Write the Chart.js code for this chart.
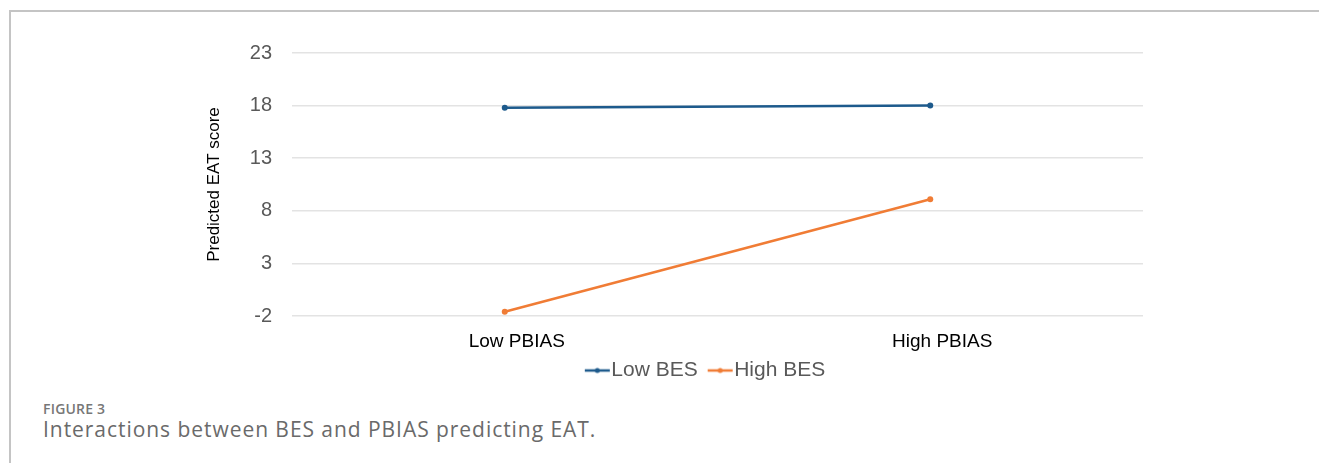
<!DOCTYPE html>
<html>
<head>
<meta charset="utf-8">
<script src="https://cdn.jsdelivr.net/npm/chart.js@4.4.1/dist/chart.umd.min.js"></script>
<style>
  html, body { margin: 0; padding: 0; background: #fff; }
  body { width: 1319px; height: 463px; position: relative; overflow: hidden; }
  #frame {
    position: absolute; left: 9px; top: 10px; width: 1320px; height: 460px;
    border-top: 2px solid #c4c4c4; border-left: 2px solid #c4c4c4;
  }
  #myChart { position: absolute; left: 0; top: 0; }
  .fig { position: absolute; left: 43px; top: 399px; font-family: "Open Sans", sans-serif;
         font-weight: 600; font-size: 14px; color: #777; letter-spacing: 0.2px; }
  .cap { position: absolute; left: 43px; top: 415px; font-family: "Open Sans", sans-serif;
         font-size: 21px; color: #6a6a6a; letter-spacing: 0.95px; }
</style>
</head>
<body>
<div id="frame"></div>
<canvas id="myChart" width="1319" height="392"></canvas>
<div class="fig">FIGURE 3</div>
<div class="cap">Interactions between BES and PBIAS predicting EAT.</div>
<script>
const categories = ['Low PBIAS', 'High PBIAS'];
const lowBES = [17.8, 18.0];
const highBES = [-1.6, 9.1];
const yMin = -2, yMax = 23, yStep = 5;

const blue = '#1d5a8c';
const orange = '#f07c35';

// legend marker: short line with a dot, shifted so it sits right against the text
function legendIcon(color) {
    let c = document.createElement('canvas');
    c.width = 38; c.height = 10;
    let g = c.getContext('2d');
    g.strokeStyle = color;
    g.lineWidth = 2.5;
    g.beginPath(); g.moveTo(12, 5); g.lineTo(37, 5); g.stroke();
    g.fillStyle = color;
    g.beginPath(); g.arc(24.5, 5, 2.5, 0, Math.PI * 2); g.fill();
    return c;
}

let ctx = document.getElementById('myChart');

let myChart = new Chart(ctx, {
    type: 'line',
    data: {
        labels: categories,
        datasets: [{
            label: 'Low BES',
            data: lowBES,
            borderColor: blue,
            backgroundColor: blue,
            borderWidth: 2.5,
            pointRadius: 3,
            pointBorderWidth: 0
        },{
            label: 'High BES',
            data: highBES,
            borderColor: orange,
            backgroundColor: orange,
            borderWidth: 2.5,
            pointRadius: 3,
            pointBorderWidth: 0
        }]
    },
    options: {
        responsive: false,
        animation: false,
        devicePixelRatio: 1,
        layout: {
            padding: { left: 200, right: 111, top: 53, bottom: 1 }
        },
        plugins: {
            tooltip: { enabled: false },
            legend: {
                position: 'bottom',
                labels: {
                    usePointStyle: true,
                    pointStyleWidth: 18,
                    color: '#595959',
                    font: { family: 'Liberation Sans', size: 21 },
                    padding: 8,
                    generateLabels: function(chart) {
                        let items = Chart.defaults.plugins.legend.labels.generateLabels(chart);
                        items.forEach(function(it, i) {
                            it.pointStyle = legendIcon(chart.data.datasets[i].borderColor);
                        });
                        return items;
                    }
                }
            }
        },
        scales: {
            x: {
                offset: true,
                afterFit: function(scale) { scale.height = 36; },
                grid: { display: false },
                border: { display: false },
                ticks: {
                    color: '#000',
                    font: { family: 'Liberation Sans', size: 19 },
                    padding: 6,
                    labelOffset: 12
                }
            },
            y: {
                min: yMin,
                max: yMax,
                afterFit: function(scale) { scale.width = 92; },
                title: {
                    display: true,
                    text: 'Predicted EAT score',
                    color: '#000',
                    font: { family: 'Liberation Sans', size: 17 },
                    padding: { top: 4, bottom: 4 }
                },
                ticks: {
                    stepSize: yStep,
                    color: '#595959',
                    font: { family: 'Liberation Sans', size: 20 },
                    padding: 20
                },
                grid: {
                    color: '#e3e3e3',
                    lineWidth: 1.5,
                    drawTicks: false
                },
                border: { display: false }
            },
            // empty right-hand box so the legend centres where the original does
            yPad: {
                position: 'right',
                afterFit: function(scale) { scale.width = 65; },
                grid: { display: false },
                border: { display: false },
                ticks: { display: false }
            }
        }
    }
});
</script>
</body>
</html>
